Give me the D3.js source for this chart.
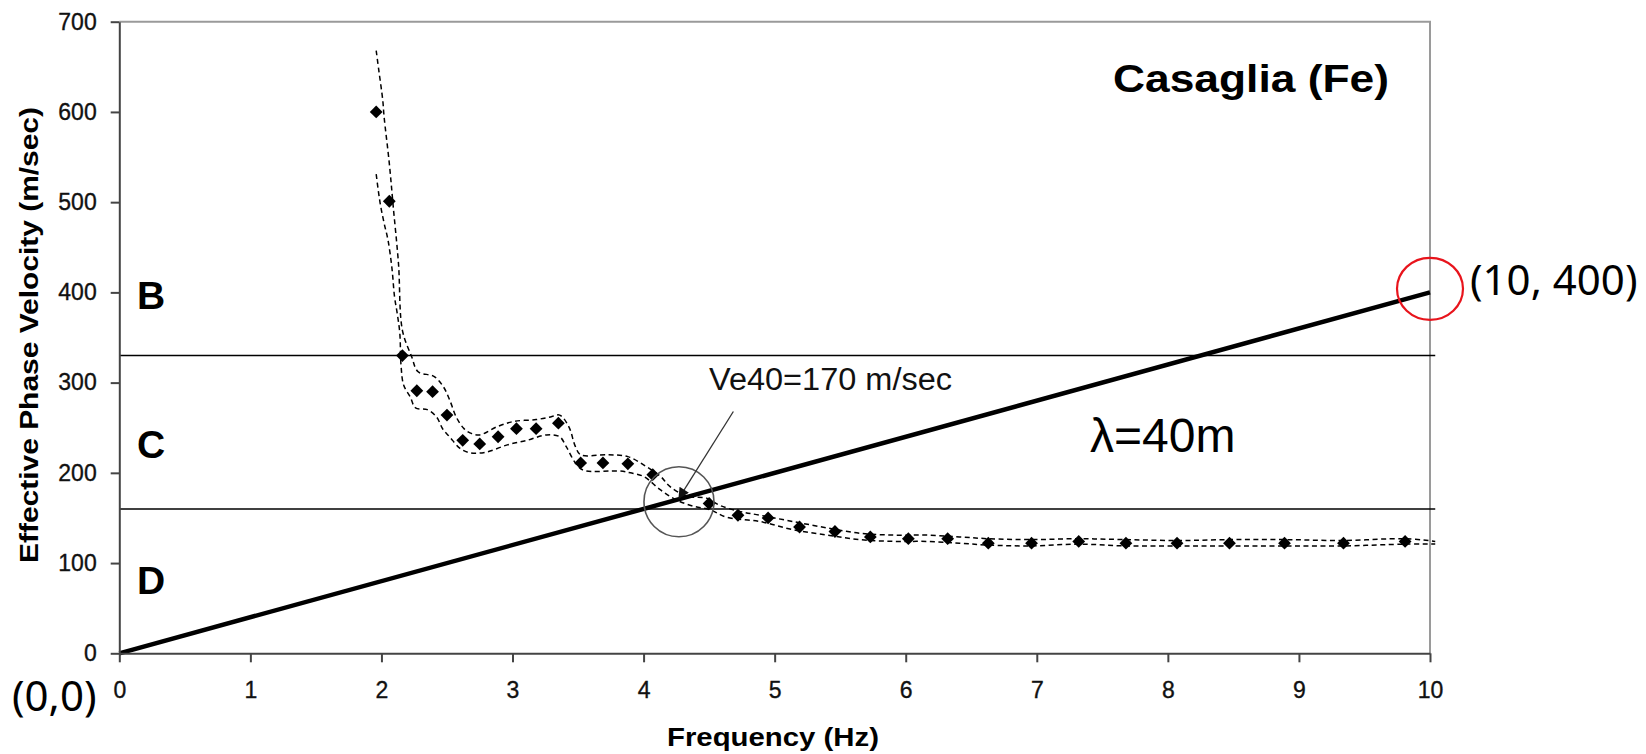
<!DOCTYPE html>
<html>
<head>
<meta charset="utf-8">
<script src="https://cdn.jsdelivr.net/npm/d3@7"></script>
<style>
  body { margin: 0; background: #fff; }
  svg { display: block; font-family: "Liberation Sans", Arial, sans-serif; }
  .axis path, .axis line { stroke: #444; stroke-width: 2; }
  .axis text { font-size: 23px; fill: #111; stroke: #111; stroke-width: 0.35; }
  .env { fill: none; stroke: #000; stroke-width: 1.5; stroke-dasharray: 5 3.5; }
</style>
</head>
<body>
<svg width="1646" height="754"></svg>
<script>
// measured points (frequency Hz, effective phase velocity m/sec)
const freq = [1.96, 2.06, 2.16, 2.27, 2.39, 2.50, 2.62, 2.75, 2.89, 3.03, 3.18, 3.35, 3.52, 3.69, 3.88, 4.07,
  4.50, 4.72, 4.95, 5.19, 5.46, 5.73, 6.02, 6.32, 6.63, 6.96, 7.32, 7.68, 8.07, 8.47, 8.89, 9.34, 9.81]
const vel = [600, 501, 330, 291, 290, 264, 236, 232, 240, 249, 249, 255, 211, 211, 210, 198,
  166, 153, 150, 140, 135, 129, 127, 127, 122, 122, 124, 122, 122, 122, 122, 122, 124]

// dashed envelope, upper side
const upperF = [1.96, 1.98, 2.01, 2.02, 2.06, 2.09, 2.13, 2.16, 2.23, 2.28, 2.40, 2.47, 2.52, 2.57, 2.63, 2.68, 2.75,
  2.88, 3.01, 3.18, 3.29, 3.36, 3.43, 3.48, 3.52, 3.72, 3.88, 4.02, 4.13, 4.20, 4.33, 4.48, 4.58, 4.74, 4.89,
  5.14, 5.40, 5.65, 5.91, 6.16, 6.41, 6.63, 6.96, 7.32, 7.68, 8.07, 8.47, 8.89, 9.34, 9.81, 10.04]
const upperV = [668, 646, 613, 595, 543, 495, 432, 358, 329, 312, 307, 296, 281, 262, 249, 244, 242,
  251, 257, 259, 262, 264, 251, 229, 220, 220, 218, 207, 196, 185, 174, 172, 164, 157, 153,
  146, 139, 133, 131, 131, 129, 127, 126, 127, 126, 125, 126, 126, 125, 127, 124]

// dashed envelope, lower side
const lowerF = [1.96, 1.99, 2.02, 2.05, 2.08, 2.10, 2.12, 2.14, 2.15, 2.17, 2.22, 2.26, 2.35, 2.42, 2.47, 2.52, 2.60,
  2.68, 2.80, 2.96, 3.11, 3.26, 3.36, 3.41, 3.48, 3.54, 3.82, 3.90, 4.00, 4.13, 4.25, 4.38, 4.51, 4.63, 4.89,
  5.14, 5.40, 5.65, 5.91, 6.16, 6.41, 6.63, 6.96, 7.32, 7.68, 8.07, 8.47, 8.89, 9.34, 9.81, 10.04]
const lowerV = [531, 499, 477, 458, 427, 395, 377, 355, 318, 297, 284, 272, 270, 262, 248, 240, 227,
  222, 223, 231, 236, 242, 240, 229, 211, 203, 202, 200, 196, 181, 170, 163, 159, 151, 146,
  137, 131, 126, 124, 124, 122, 120, 119, 121, 119, 119, 119, 119, 119, 121, 121]

// lambda = 40 m line and class boundaries
const lambdaLine = [[0, 0], [10, 400]]
const classLimits = [330, 160]
const classNames = ["B", "C", "D"]
const classLabelV = [382, 216, 66]

const xTicks = [0, 1, 2, 3, 4, 5, 6, 7, 8, 9, 10]
const yTicks = [0, 100, 200, 300, 400, 500, 600, 700]

const svg = d3.select('svg')

const x = d3.scaleLinear().domain([0, 10]).range([119.3, 1430])
const y = d3.scaleLinear().domain([0, 700]).range([653.3, 21.7])

// top / right frame in light gray
svg.append('path')
  .attr('d', `M${x(0)},${y(700)}H${x(10)}V${y(0)}`)
  .attr('fill', 'none')
  .attr('stroke', '#9a9a9a')
  .attr('stroke-width', 2)

// class boundaries
svg.selectAll('.limit')
  .data(classLimits)
  .enter()
  .append('line')
  .attr('class', 'limit')
  .attr('x1', x(0))
  .attr('x2', x(10.04))
  .attr('y1', d => y(d))
  .attr('y2', d => y(d))
  .attr('stroke', '#000')
  .attr('stroke-width', 1.6)

svg.selectAll('.cls')
  .data(classNames)
  .enter()
  .append('text')
  .attr('class', 'cls')
  .attr('x', 137)
  .attr('y', (d, i) => y(classLabelV[i]))
  .attr('font-size', 39)
  .attr('font-weight', 'bold')
  .text(d => d)

// lambda line
svg.append('path')
  .datum(lambdaLine)
  .attr('d', d3.line().x(d => x(d[0])).y(d => y(d[1])))
  .attr('stroke', '#000')
  .attr('stroke-width', 4.5)

// envelopes
const env = d3.line()
  .x(d => x(d[0]))
  .y(d => y(d[1]))
  .curve(d3.curveCatmullRom.alpha(0.5))

svg.append('path')
  .datum(d3.zip(upperF, upperV))
  .attr('class', 'env')
  .attr('d', env)

svg.append('path')
  .datum(d3.zip(lowerF, lowerV))
  .attr('class', 'env')
  .attr('d', env)

// points
svg.selectAll('.pt')
  .data(d3.zip(freq, vel))
  .enter()
  .append('path')
  .attr('class', 'pt')
  .attr('d', d3.symbol(d3.symbolSquare, 82))
  .attr('transform', d => `translate(${x(d[0])},${y(d[1])}) rotate(45)`)
  .attr('fill', '#000')

// axes
svg.append('g')
  .attr('class', 'axis')
  .attr('transform', `translate(0,${y(0)})`)
  .call(d3.axisBottom(x).tickValues(xTicks).tickSize(9).tickPadding(19).tickSizeOuter(0))

svg.append('g')
  .attr('class', 'axis')
  .attr('transform', `translate(${x(0)},0)`)
  .call(d3.axisLeft(y).tickValues(yTicks).tickSize(8.6).tickPadding(14).tickSizeOuter(0))

// axis titles
svg.append('text')
  .attr('x', 773)
  .attr('y', 746)
  .attr('text-anchor', 'middle')
  .attr('font-size', 26)
  .attr('font-weight', 'bold')
  .attr('textLength', 212)
  .attr('lengthAdjust', 'spacingAndGlyphs')
  .text('Frequency (Hz)')

svg.append('text')
  .attr('transform', 'translate(38,335) rotate(-90)')
  .attr('text-anchor', 'middle')
  .attr('font-size', 26)
  .attr('font-weight', 'bold')
  .attr('textLength', 456)
  .attr('lengthAdjust', 'spacingAndGlyphs')
  .text('Effective Phase Velocity (m/sec)')

svg.append('text')
  .attr('x', 1113)
  .attr('y', 92)
  .attr('font-size', 39)
  .attr('font-weight', 'bold')
  .attr('textLength', 276)
  .attr('lengthAdjust', 'spacingAndGlyphs')
  .text('Casaglia (Fe)')

svg.append('text')
  .attr('x', 1090)
  .attr('y', 452)
  .attr('font-size', 48)
  .text('λ=40m')

// Ve40 annotation
const ve40 = [4.27, 168]
svg.append('circle')
  .attr('cx', x(ve40[0]))
  .attr('cy', y(ve40[1]))
  .attr('r', 35)
  .attr('fill', 'none')
  .attr('stroke', '#555')
  .attr('stroke-width', 1.6)

svg.append('defs').append('marker')
  .attr('id', 'head')
  .attr('viewBox', '0 0 10 10')
  .attr('refX', 9)
  .attr('refY', 5)
  .attr('markerWidth', 15)
  .attr('markerHeight', 11)
  .attr('markerUnits', 'userSpaceOnUse')
  .attr('orient', 'auto')
  .append('path')
  .attr('d', 'M0,0L10,5L0,10z')
  .attr('fill', '#111')

svg.append('line')
  .attr('x1', x(4.685))
  .attr('y1', y(268))
  .attr('x2', x(4.27))
  .attr('y2', y(172))
  .attr('stroke', '#333')
  .attr('stroke-width', 1.3)
  .attr('marker-end', 'url(#head)')

svg.append('text')
  .attr('x', 709)
  .attr('y', 390)
  .attr('font-size', 31)
  .attr('fill', '#111')
  .attr('textLength', 243)
  .attr('lengthAdjust', 'spacingAndGlyphs')
  .text('Ve40=170 m/sec')

// corner annotations
svg.append('ellipse')
  .attr('cx', x(10))
  .attr('cy', y(404))
  .attr('rx', 33)
  .attr('ry', 31)
  .attr('fill', 'none')
  .attr('stroke', '#e8141c')
  .attr('stroke-width', 2.2)

svg.append('text')
  .attr('x', 1470)
  .attr('y', 295)
  .attr('font-family', '"Noto Sans", sans-serif')
  .attr('font-size', 42)
  .text('(10, 400)')

svg.append('text')
  .attr('x', 12)
  .attr('y', 711)
  .attr('font-family', '"Noto Sans", sans-serif')
  .attr('font-size', 42)
  .text('(0,0)')
</script>
</body>
</html>
